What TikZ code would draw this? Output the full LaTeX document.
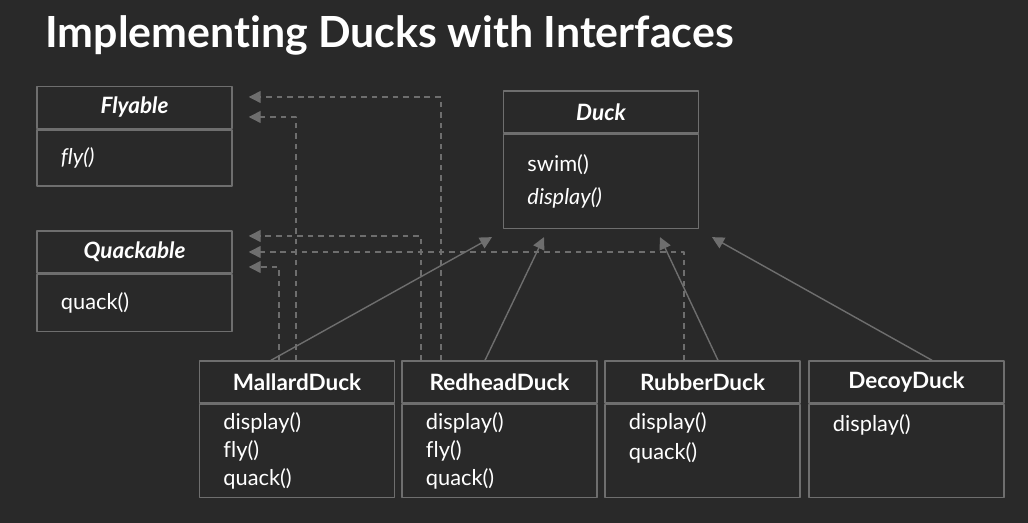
\documentclass[tikz,border=0pt]{standalone}
\usepackage{fontspec}
\setmainfont{Lato}[Ligatures=NoCommon]
\usetikzlibrary{positioning,arrows.meta}
\definecolor{bg}{HTML}{292929}
\definecolor{ln}{HTML}{6E6E6E}
\tikzset{
  hd/.style={draw=ln, line width=1pt, minimum width=4.875cm, minimum height=1.05cm, inner sep=0pt, text=white, font=\fontsize{16}{19}\selectfont\bfseries},
  bd/.style={draw=ln, line width=1pt, minimum width=4.875cm, text width=3.675cm, inner xsep=0.6cm, inner ysep=0pt, align=left, text=white, font=\fontsize{15.5}{20}\selectfont, below=0pt of #1},
  inh/.style={draw=ln, line width=1pt, -{Triangle[length=0.3cm,width=0.3cm]}},
  dep/.style={inh, dash pattern=on 4pt off 3.5pt},
}
\begin{document}
\begin{tikzpicture}[x=0.025cm, y=-0.025cm, line join=round]
  \fill[bg] (0,0) rectangle (1028,523);
  \node[anchor=base west, inner sep=0pt, text=white, font=\fontsize{30.5}{36}\selectfont\bfseries] (title) at (45,48) {Implementing Ducks with Interfaces};
  % interfaces
  \node[hd, font=\fontsize{16}{19}\selectfont\bfseries\itshape] (fly) at (134.5,107.5) {Flyable};
  \node[bd=fly, minimum height=1.4cm] (flyb) {\textit{fly()}};
  \node[hd, font=\fontsize{16}{19}\selectfont\bfseries\itshape] (quack) at (134.5,252) {Quackable};
  \node[bd=quack, minimum height=1.425cm] (quackb) {quack()};
  % superclass
  \node[hd, font=\fontsize{16}{19}\selectfont\bfseries\itshape] (duck) at (601,112) {Duck};
  \node[bd=duck, minimum height=2.35cm, font=\fontsize{15.5}{23}\selectfont] (duckb) {swim()\\ \textit{display()}};
  % subclasses
  \node[hd] (mallard) at (297,382) {MallardDuck};
  \node[bd=mallard, minimum height=2.325cm] (mallardb) {display()\\ fly()\\ quack()};
  \node[hd] (redhead) at (499.5,382) {RedheadDuck};
  \node[bd=redhead, minimum height=2.325cm] (redheadb) {display()\\ fly()\\ quack()};
  \node[hd] (rubber) at (702.5,382) {RubberDuck};
  \node[bd=rubber, minimum height=2.325cm, font=\fontsize{15.5}{21}\selectfont] (rubberb) {display()\\ quack()\\ \mbox{}};
  \node[hd] (decoy) at (906.5,382) {DecoyDuck};
  \node[bd=decoy, minimum height=2.325cm] (decoyb) {display()\\ \mbox{}\\ \mbox{}};
  % inheritance
  \draw[inh] (mallard.north -| 271,0) -- ([yshift=-0.2cm]duckb.south -| 492,0);
  \draw[inh] (redhead.north -| 485,0) -- ([yshift=-0.2cm]duckb.south -| 544,0);
  \draw[inh] (rubber.north -| 718,0) -- ([yshift=-0.2cm]duckb.south -| 660,0);
  \draw[inh] (decoy.north -| 932,0) -- ([yshift=-0.2cm]duckb.south -| 712,0);
  % implements
  \draw[dep] (redhead.north -| 441,0) |- ([xshift=0.4cm]fly.east |- 0,97);
  \draw[dep] (mallard.north -| 296,0) |- ([xshift=0.4cm]fly.east |- 0,117);
  \draw[dep] (redhead.north -| 421,0) |- ([xshift=0.4cm]quack.east |- 0,236);
  \draw[dep] (rubber.north -| 684,0) |- ([xshift=0.4cm]quack.east |- 0,252);
  \draw[dep] (mallard.north -| 279,0) |- ([xshift=0.4cm]quack.east |- 0,267);
\end{tikzpicture}
\end{document}
